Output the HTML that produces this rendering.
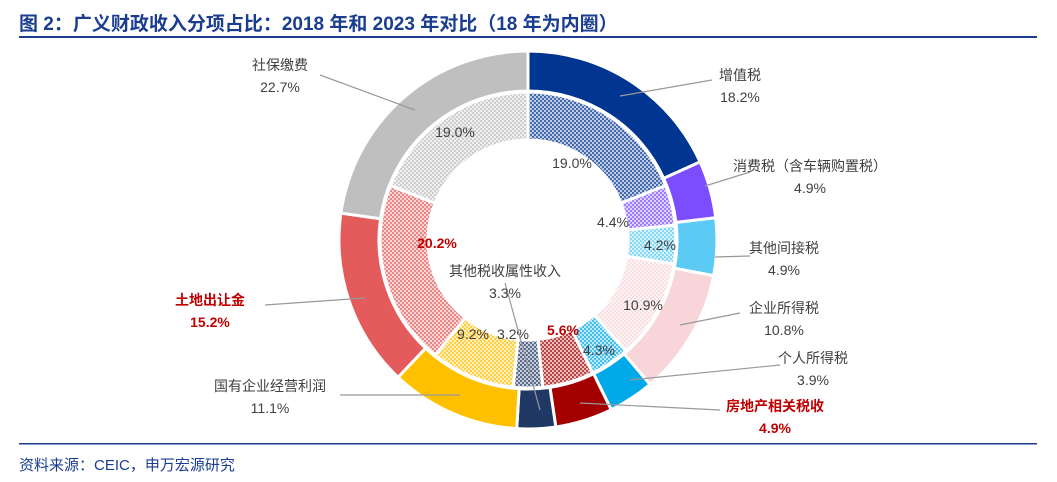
<!DOCTYPE html>
<html><head><meta charset="utf-8">
<style>
body{margin:0;background:#fff;width:1057px;height:477px;overflow:hidden;font-family:"Liberation Sans","Noto Sans CJK SC",sans-serif;}
</style></head>
<body>
<svg id="chart" width="1057" height="477" viewBox="0 0 1057 477" font-family="Liberation Sans, Noto Sans CJK SC, sans-serif">
<defs id="defs"></defs>
<text x="19" y="30" font-size="19" font-weight="bold" fill="#1A3D8F">图 2：广义财政收入分项占比：2018 年和 2023 年对比（18 年为内圈）</text>
<rect x="19" y="36" width="1018" height="2" fill="#1A3D8F"/>
<rect x="19" y="443" width="1018" height="1.5" fill="#1A3D8F"/>
<text x="19" y="470" font-size="15" fill="#1A3D8F">资料来源：CEIC，申万宏源研究</text>
<g id="rings"></g>
<g id="labels"></g>
</svg>
<script>
const categories=["增值税","消费税（含车辆购置税）","其他间接税","企业所得税","个人所得税","房地产相关税收","其他税收属性收入","国有企业经营利润","土地出让金","社保缴费"];
const values2023=[18.2,4.9,4.9,10.8,3.9,4.9,3.3,11.1,15.2,22.7];
const values2018=[19.0,4.4,4.2,10.9,4.3,5.6,3.2,9.2,20.2,19.0];
const colors=["#003591","#7B4DFF","#5BCBF5","#F8D5D8","#00A9E8","#A50000","#203864","#FFC000","#E35B5B","#BFBFBF"];
const highlight=[false,false,false,false,false,true,false,false,true,false];
const NS="http://www.w3.org/2000/svg";
const cx=528,cy=240;
const rings=document.getElementById('rings'),labels=document.getElementById('labels'),defs=document.getElementById('defs');
function mk(t,a,p){const e=document.createElementNS(NS,t);for(const k in a)e.setAttribute(k,a[k]);(p||rings).appendChild(e);return e;}
function pt(r,a){return [cx+r*Math.sin(a),cy-r*Math.cos(a)];}
function arc(r0,r1,a0,a1){const [x0,y0]=pt(r1,a0),[x1,y1]=pt(r1,a1),[x2,y2]=pt(r0,a1),[x3,y3]=pt(r0,a0);const l=(a1-a0)>Math.PI?1:0;
return `M${x0},${y0}A${r1},${r1} 0 ${l} 1 ${x1},${y1}L${x2},${y2}A${r0},${r0} 0 ${l} 0 ${x3},${y3}Z`;}
colors.forEach((c,i)=>{const p=mk('pattern',{id:'hp'+i,width:4,height:4,patternUnits:'userSpaceOnUse'},defs);
mk('rect',{width:4,height:4,fill:'#fff'},p);
mk('rect',{width:4,height:4,fill:c,opacity:0.25},p);
mk('rect',{width:2,height:2,fill:c,opacity:0.65},p);mk('rect',{x:2,y:2,width:2,height:2,fill:c,opacity:0.65},p);});
function ring(vals,r0,r1,inner){const tot=vals.reduce((a,b)=>a+b,0);let a=0;
vals.forEach((v,i)=>{const a0=a/tot*2*Math.PI,a1=(a+v)/tot*2*Math.PI;a+=v;
const p=mk('path',{d:arc(r0,r1,a0,a1),fill:inner?'url(#hp'+i+')':colors[i],stroke:'#fff','stroke-width':3});

});}
ring(values2023,149,189,false);
ring(values2018,100,148,true);
function txt(x,y,s,opt){const t=mk('text',{x:x,y:y,'font-size':14,fill:opt&&opt.red?'#C00000':'#404040','font-weight':opt&&opt.red?'bold':'normal','text-anchor':'middle'},labels);t.textContent=s;return t;}
const innerPos=[[572,168],[613,227],[660,250],[643,310],[599,355],[563,335],[513,339],[473,339],[437,248],[455,137]];
values2018.forEach((v,i)=>{const t=txt(innerPos[i][0],innerPos[i][1],v.toFixed(1)+'%',{red:highlight[i]});

});
const lab=[[740,80],[810,171],[784,253],[784,313],[813,363],[775,411],[505,276],[270,391],[210,305],[280,70]];
const lineEnd=[[712,80],[750,172],[750,256],[740,313],[780,365],[720,410],[540,410],[460,395],[365,298],[415,110]];
const lineStart=[[620,96],[705,186],[715,257],[680,325],[630,380],[580,403],[505,283],[340,395],[265,305],[320,75]];
values2023.forEach((v,i)=>{
const l=mk('line',{x1:lineStart[i][0],y1:lineStart[i][1],x2:lineEnd[i][0],y2:lineEnd[i][1],stroke:'#999','stroke-width':1.2},labels);


const t1=txt(lab[i][0],lab[i][1],categories[i],{red:highlight[i]});


const t2=txt(lab[i][0],lab[i][1]+22,v.toFixed(1)+'%',{red:highlight[i]});

});
</script>
</body></html>
